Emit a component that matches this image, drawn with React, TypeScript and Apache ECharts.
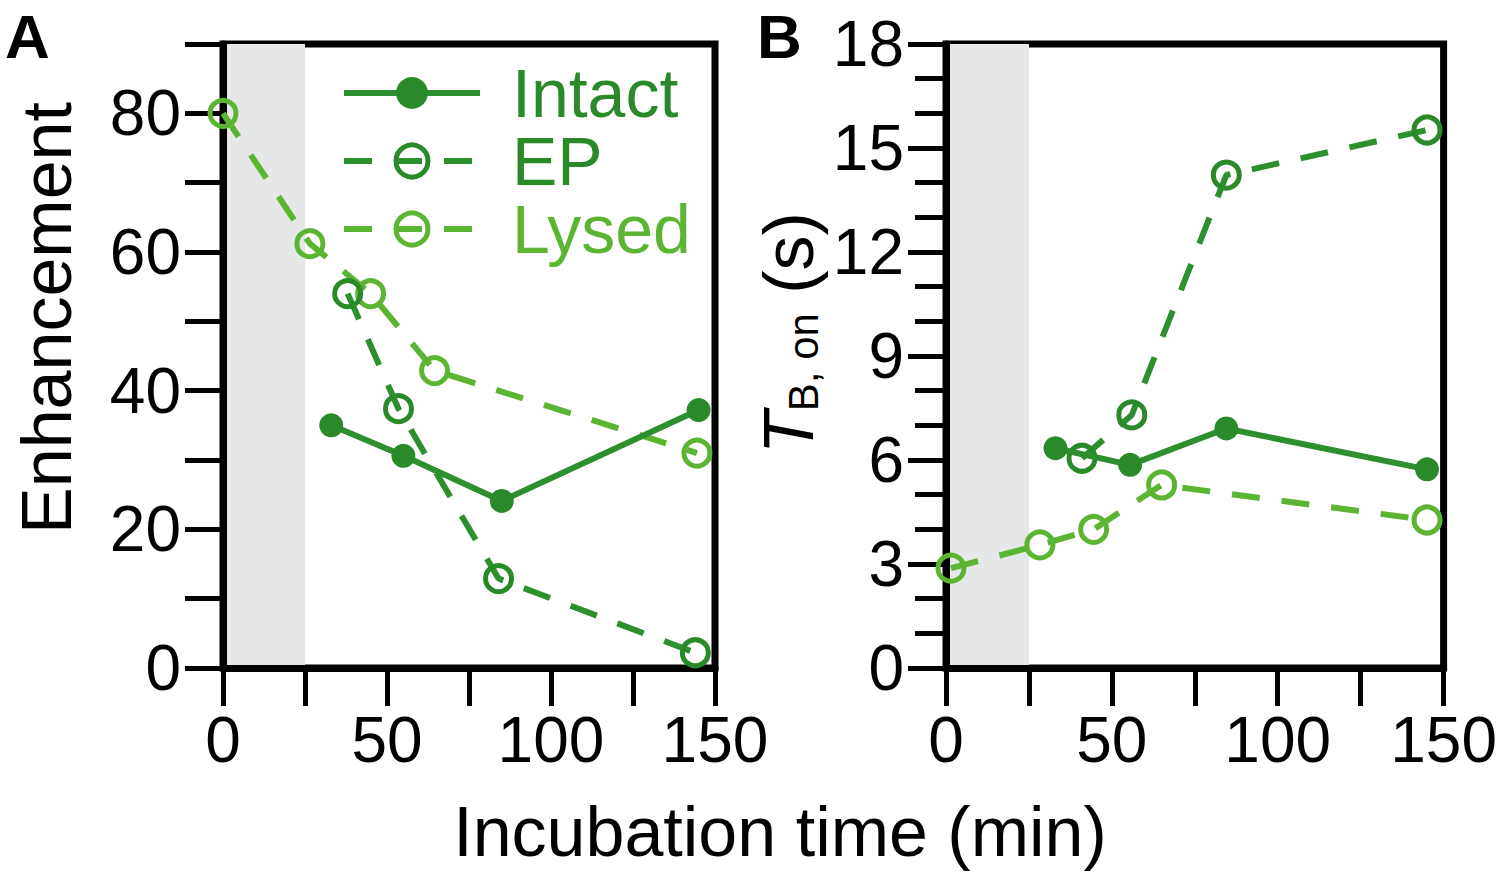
import React, { useEffect, useRef } from "react";
import * as echarts from "echarts";

// ---- data (time in min) ----
const intactA_t = [33, 55, 85, 145];
const intactA_v = [35, 30.6, 24.1, 37.2];
const epA_t = [38, 53.5, 84, 144];
const epA_v = [54, 37.4, 12.9, 2.2];
const lysedA_t = [0, 26.5, 45, 64.5, 144.5];
const lysedA_v = [80, 61.2, 54, 42.9, 31];

const intactB_t = [33, 55.5, 84.5, 145];
const intactB_v = [6.34, 5.86, 6.91, 5.73];
const epB_t = [41, 56, 84.5, 145];
const epB_v = [6.05, 7.3, 14.22, 15.52];
const lysedB_t = [1.5, 28.3, 44.5, 65, 145];
const lysedB_v = [2.88, 3.55, 4.0, 5.28, 4.27];

const seriesNames = ["Intact", "EP", "Lysed"];
const shadedRange = [0, 25];

const FONT = "Liberation Sans, Arial, sans-serif";
const DARK = "#2e8f2e";
const DARK_MK = "#2a8a2a";
const LIGHT = "#5bb532";
const GRAY = "#e6e8e7";

const zip = (t: number[], v: number[]) => t.map((x, i) => [x, v[i]]);

export default function App() {
  const ref = useRef<HTMLDivElement>(null);
  useEffect(() => {
    if (!ref.current) return;
    const chart = echarts.init(ref.current, undefined, { renderer: "svg" });

    const xAxisBase = (gridIndex: number) => ({
      type: "value",
      gridIndex,
      min: 0,
      max: 150,
      interval: 25,
      z: 1.5,
      axisLine: { show: true, lineStyle: { color: "#000", width: 7 } },
      axisTick: { show: true, length: 38, lineStyle: { color: "#000", width: 5 } },
      axisLabel: {
        fontSize: 64,
        fontFamily: FONT,
        color: "#000",
        margin: 40,
        formatter: (v: number) => (v % 50 === 0 ? String(v) : ""),
      },
      splitLine: { show: false },
    });

    const lineSeries = (
      name: string,
      data: number[][],
      xi: number,
      kind: "solid" | "dashedDark" | "dashedLight",
      withBand: boolean
    ) => {
      const color = kind === "dashedLight" ? LIGHT : DARK;
      const s: any = {
        name,
        type: "line",
        xAxisIndex: xi,
        yAxisIndex: xi,
        data,
        clip: false,
        symbol: "circle",
        symbolSize: kind === "solid" ? 24 : 26,
        lineStyle: {
          color,
          width: 6,
          type: kind === "solid" ? "solid" : [28, 22],
        },
        itemStyle:
          kind === "solid"
            ? { color: DARK_MK, borderWidth: 0 }
            : { color: "rgba(255,255,255,0)", borderColor: kind === "dashedLight" ? LIGHT : DARK_MK, borderWidth: 5 },
        emphasis: { disabled: true },
        z: kind === "solid" ? 4 : 3,
      };
      if (withBand) {
        s.markArea = {
          silent: true,
          itemStyle: { color: GRAY },
          data: [[{ xAxis: shadedRange[0] }, { xAxis: shadedRange[1] }]],
        };
      }
      return s;
    };

    chart.setOption({
      animation: false,
      backgroundColor: "#fff",
      grid: [
        { left: 223, right: 785, top: 44, bottom: 208, show: true, borderColor: "#000", borderWidth: 7, backgroundColor: "transparent", containLabel: false },
        { left: 946, right: 55, top: 44, bottom: 208, show: true, borderColor: "#000", borderWidth: 7, backgroundColor: "transparent", containLabel: false },
      ],
      xAxis: [xAxisBase(0), xAxisBase(1)],
      yAxis: [
        {
          type: "value",
          gridIndex: 0,
          min: 0,
          max: 90,
          interval: 10,
          z: 1.5,
          axisLine: { show: true, lineStyle: { color: "#000", width: 7 } },
          axisTick: { show: true, length: 38, lineStyle: { color: "#000", width: 5 } },
          axisLabel: {
            fontSize: 64,
            fontFamily: FONT,
            color: "#000",
            margin: 42,
            formatter: (v: number) => (v % 20 === 0 ? String(v) : ""),
          },
          splitLine: { show: false },
        },
        {
          type: "value",
          gridIndex: 1,
          min: 0,
          max: 18,
          interval: 3,
          z: 1.5,
          axisLine: { show: true, lineStyle: { color: "#000", width: 7 } },
          axisTick: { show: true, length: 38, lineStyle: { color: "#000", width: 5 } },
          minorTick: { show: true, splitNumber: 3, length: 31, lineStyle: { color: "#000", width: 5 } },
          axisLabel: { fontSize: 64, fontFamily: FONT, color: "#000", margin: 42 },
          splitLine: { show: false },
          minorSplitLine: { show: false },
        },
      ],
      legend: {
        show: true,
        orient: "vertical",
        left: 336,
        top: 54,
        itemWidth: 136,
        itemHeight: 40,
        itemGap: 0,
        selectedMode: false,
        lineStyle: { width: 6 },
        itemStyle: { borderWidth: 5 },
        textStyle: { fontSize: 68, fontFamily: FONT, lineHeight: 68, padding: [0, 0, 0, 27] },
        data: [
          { name: seriesNames[0], textStyle: { color: DARK_MK } },
          { name: seriesNames[1], textStyle: { color: DARK_MK } },
          { name: seriesNames[2], textStyle: { color: LIGHT } },
        ],
      },
      graphic: [
        { type: "text", left: 5, top: 5, style: { text: "A", fontSize: 62, fontWeight: "bold", fontFamily: FONT, fill: "#000" } },
        { type: "text", left: 757, top: 5, style: { text: "B", fontSize: 62, fontWeight: "bold", fontFamily: FONT, fill: "#000" } },
        {
          type: "text",
          x: 47,
          y: 318,
          rotation: Math.PI / 2,
          style: { text: "Enhancement", fontSize: 70, fontFamily: FONT, fill: "#000", align: "center", verticalAlign: "middle" },
        },
        {
          type: "text",
          x: 789,
          y: 333,
          rotation: Math.PI / 2,
          style: {
            text: "{i|T}{sub|B, on}{n| (s)}",
            fontSize: 70,
            fontFamily: FONT,
            fill: "#000",
            align: "center",
            verticalAlign: "middle",
            rich: {
              i: { fontSize: 70, fontStyle: "italic", fontFamily: FONT, fill: "#000", verticalAlign: "bottom" },
              sub: { fontSize: 42, fontFamily: FONT, fill: "#000", verticalAlign: "bottom" },
              n: { fontSize: 70, fontFamily: FONT, fill: "#000", verticalAlign: "bottom" },
            },
          },
        },
        {
          type: "text",
          x: 780,
          y: 832,
          style: { text: "Incubation time (min)", fontSize: 70, fontFamily: FONT, fill: "#000", align: "center", verticalAlign: "middle" },
        },
      ],
      series: [
        lineSeries(seriesNames[2], zip(lysedA_t, lysedA_v), 0, "dashedLight", true),
        lineSeries(seriesNames[1], zip(epA_t, epA_v), 0, "dashedDark", false),
        lineSeries(seriesNames[0], zip(intactA_t, intactA_v), 0, "solid", false),
        lineSeries(seriesNames[2], zip(lysedB_t, lysedB_v), 1, "dashedLight", true),
        lineSeries(seriesNames[1], zip(epB_t, epB_v), 1, "dashedDark", false),
        lineSeries(seriesNames[0], zip(intactB_t, intactB_v), 1, "solid", false),
      ],
    });
    return () => chart.dispose();
  }, []);
  return <div ref={ref} style={{ position: "fixed", left: 0, top: 0, width: 1500, height: 876 }} />;
}
